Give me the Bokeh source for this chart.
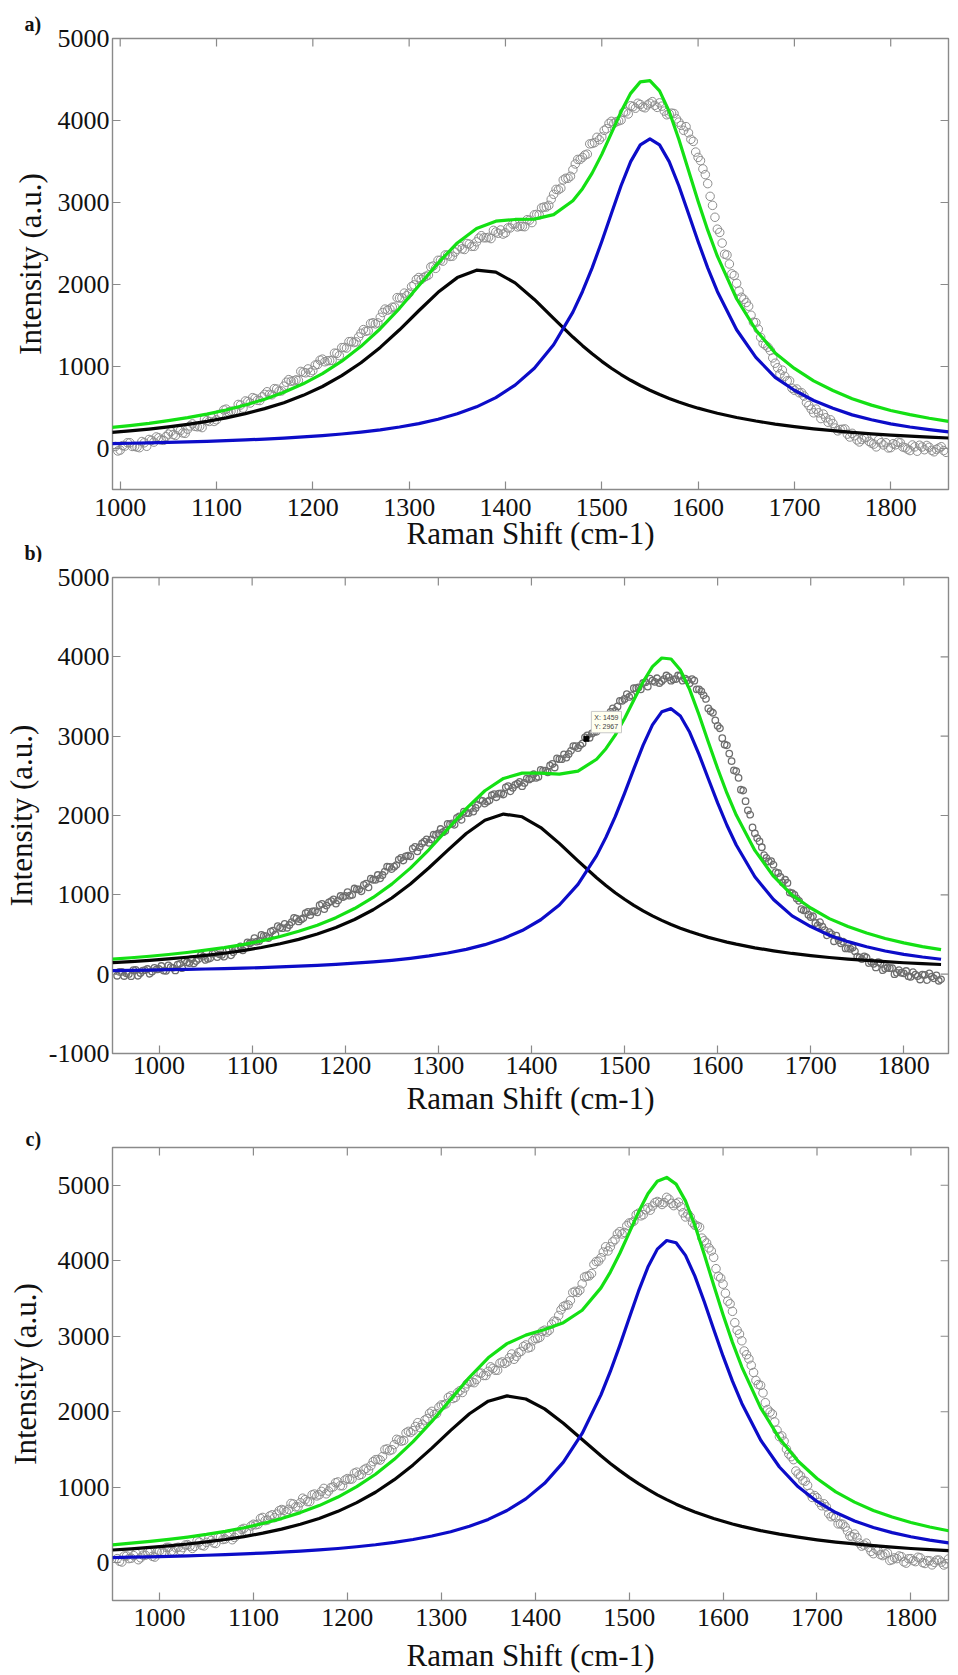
import numpy as np
from bokeh.plotting import figure
from bokeh.models import FixedTicker, Range1d, Title, Label
from bokeh.layouts import column
from bokeh.embed import file_html
from bokeh.resources import INLINE

# ---------------- data ----------------
# x grid of the fitted curves (cm-1)
FIT_X = [950, 970, 990, 1010, 1030, 1050, 1070, 1090, 1110, 1130,
         1150, 1170, 1190, 1210, 1230, 1250, 1270, 1290, 1310, 1330,
         1350, 1370, 1390, 1410, 1430, 1450, 1470,
         1480, 1490, 1500, 1510, 1520, 1530, 1540, 1550, 1560, 1570,
         1580, 1590, 1600, 1610, 1620,
         1640, 1660, 1680, 1700, 1720, 1740, 1760, 1780, 1800, 1820,
         1840, 1860]

# panel a) fitted curves
A_BLACK = [163, 178, 195, 215, 237, 264, 295, 331, 374, 425,
           486, 559, 648, 756, 888, 1046, 1233, 1448, 1680, 1905,
           2084, 2175, 2151, 2020, 1818, 1587, 1359,
           1254, 1155, 1063, 979, 902, 832, 768, 711, 658, 611,
           567, 528, 492, 460, 430,
           378, 335, 298, 267, 240, 217, 197, 179, 164, 151,
           139, 128]
A_BLUE = [52, 56, 60, 64, 69, 75, 81, 88, 96, 105,
          115, 127, 141, 158, 177, 200, 228, 262, 304, 356,
          423, 508, 621, 773, 979, 1265, 1663,
          1915, 2203, 2524, 2866, 3204, 3499, 3703, 3776, 3703, 3499,
          3204, 2866, 2524, 2203, 1915,
          1448, 1111, 868, 710, 585, 490, 410, 350, 300, 262,
          230, 203]
A_GREEN = [215, 234, 255, 279, 306, 339, 376, 419, 470, 530,
           601, 686, 789, 914, 1065, 1246, 1461, 1710, 1984, 2261,
           2507, 2683, 2772, 2793, 2797, 2852, 3022,
           3169, 3358, 3587, 3845, 4106, 4331, 4471, 4487, 4361, 4110,
           3771, 3394, 3016, 2663, 2345,
           1826, 1446, 1166, 977, 825, 707, 607, 529, 464, 413,
           369, 331]

# panel b) fitted curves
B_BLACK = [145, 159, 174, 192, 213, 237, 264, 297, 336, 383,
           439, 506, 589, 689, 812, 960, 1137, 1341, 1561, 1773,
           1940, 2018, 1984, 1848, 1649, 1428, 1215,
           1118, 1027, 944, 868, 798, 735, 678, 626, 580, 537,
           499, 464, 433, 404, 378,
           332, 294, 261, 234, 210, 190, 173, 157, 144, 132,
           122, 112]
B_BLUE = [45, 48, 52, 56, 60, 65, 70, 76, 83, 91,
          101, 111, 123, 138, 155, 175, 200, 230, 267, 313,
          372, 449, 550, 686, 872, 1132, 1494,
          1724, 1986, 2279, 2588, 2888, 3142, 3307, 3347, 3254, 3049,
          2771, 2463, 2159, 1877, 1628,
          1228, 941, 735, 600, 490, 410, 345, 292, 250, 216,
          188, 165]
B_GREEN = [190, 207, 226, 248, 273, 302, 334, 373, 419, 474,
           540, 617, 712, 827, 967, 1135, 1337, 1571, 1828, 2086,
           2312, 2467, 2534, 2534, 2521, 2560, 2709,
           2842, 3013, 3223, 3456, 3686, 3877, 3985, 3973, 3834, 3586,
           3270, 2927, 2592, 2281, 2006,
           1560, 1235, 996, 834, 700, 600, 518, 449, 394, 348,
           310, 277]

# panel c) fitted curves
C_BLACK = [169, 185, 203, 224, 248, 276, 308, 346, 392, 445,
           510, 587, 681, 796, 934, 1100, 1296, 1518, 1753, 1974,
           2140, 2210, 2169, 2038, 1848, 1632, 1417,
           1316, 1220, 1131, 1048, 971, 900, 836, 776, 722, 673,
           628, 586, 549, 514, 482,
           426, 379, 339, 304, 274, 249, 226, 207, 189, 174,
           161, 149]
C_BLUE = [69, 74, 79, 85, 92, 99, 108, 117, 128, 140,
          154, 170, 189, 212, 238, 270, 308, 354, 411, 483,
          574, 692, 846, 1052, 1332, 1712, 2224,
          2534, 2876, 3238, 3597, 3916, 4154, 4268, 4239, 4071, 3796,
          3456, 3092, 2736, 2405, 2110,
          1626, 1268, 1006, 812, 665, 554, 467, 399, 344, 299,
          263, 232]
C_GREEN = [238, 259, 282, 309, 340, 375, 416, 463, 520, 585,
           664, 757, 870, 1008, 1172, 1370, 1604, 1872, 2164, 2457,
           2714, 2902, 3015, 3090, 3180, 3344, 3641,
           3850, 4096, 4369, 4645, 4887, 5054, 5104, 5015, 4793, 4469,
           4084, 3678, 3285, 2919, 2592,
           2052, 1647, 1345, 1116, 939, 803, 693, 606, 533, 473,
           424, 381]

# measured spectra (open circles), two interleaved sample sets per panel
A_DATA_X = list(range(995, 1856, 5))
A_DATA_Y = [25, -20, 30, 70, 25, 10, 70, 110, 78, 130,
            100, 175, 170, 230, 190, 235, 300, 265, 255, 340,
            375, 350, 420, 480, 455, 455, 530, 580, 555, 610,
            585, 660, 660, 730, 700, 760, 840, 825, 830, 930,
            970, 950, 1025, 1090, 1070, 1075, 1160, 1230, 1225, 1305,
            1300, 1405, 1430, 1525, 1520, 1600, 1700, 1700, 1725, 1835,
            1895, 1895, 1995, 2085, 2085, 2115, 2225, 2295, 2285, 2360,
            2345, 2430, 2435, 2500, 2465, 2520, 2595, 2570, 2560, 2640,
            2665, 2630, 2690, 2740, 2710, 2705, 2785, 2850, 2850, 2945,
            2965, 3100, 3155, 3275, 3295, 3400, 3525, 3550, 3590, 3720,
            3795, 3800, 3900, 3990, 3985, 4005, 4105, 4180, 4150, 4195,
            4155, 4210, 4185, 4215, 4115, 4080, 4085, 3980, 3880, 3850,
            3745, 3550, 3410, 3230, 2965, 2675, 2505, 2360, 2130, 2015,
            1845, 1780, 1625, 1535, 1355, 1260, 1195, 1040, 910, 880,
            825, 710, 680, 640, 525, 435, 435, 420, 320, 305,
            215, 235, 175, 185, 105, 110, 135, 65, 20, 70,
            70, 10, 45, 70, 10, -25, 20, 40, -15, 15,
            -40, 5, -25]
A_DATA2_X = list(np.arange(997.5, 1858, 5))
A_DATA2_Y = [-30, 35, 70, 25, 18, 85, 27, 99, 141, 105,
             145, 205, 160, 220, 185, 275, 270, 270, 358, 330,
             330, 415, 470, 445, 455, 537, 493, 572, 620, 588,
             630, 692, 655, 725, 702, 808, 820, 837, 940, 923,
             927, 1018, 1077, 1058, 1072, 1163, 1133, 1232, 1303, 1292,
             1360, 1450, 1437, 1533, 1532, 1658, 1687, 1723, 1840, 1837,
             1863, 1975, 2060, 2062, 2100, 2215, 2197, 2295, 2360, 2342,
             2395, 2465, 2427, 2493, 2465, 2565, 2570, 2575, 2660, 2625,
             2615, 2690, 2735, 2702, 2708, 2790, 2755, 2855, 2935, 2945,
             3040, 3160, 3175, 3295, 3320, 3470, 3525, 3580, 3715, 3730,
             3765, 3880, 3965, 3965, 3995, 4100, 4080, 4170, 4210, 4165,
             4190, 4230, 4160, 4175, 4070, 4090, 4020, 3940, 3925, 3770,
             3615, 3510, 3340, 3075, 2820, 2635, 2370, 2250, 2110, 1920,
             1820, 1735, 1540, 1455, 1280, 1235, 1105, 985, 955, 825,
             735, 725, 680, 560, 480, 480, 365, 375, 350, 250,
             232, 238, 140, 155, 80, 130, 87, 53, 105, 43,
             7, 58, 77, 18, -8, 43, -33, 18, 37, -22,
             -10, 22, -47]

B_DATA_X = list(range(955, 1841, 5))
B_DATA_Y = [-20, 30, 10, -25, 55, 15, 50, 5, 80, 65,
            45, 110, 80, 120, 75, 150, 190, 165, 240, 180,
            200, 265, 250, 220, 310, 275, 325, 300, 400, 405,
            410, 495, 480, 535, 500, 585, 635, 620, 710, 665,
            705, 785, 790, 780, 885, 865, 920, 890, 985, 985,
            990, 1080, 1070, 1125, 1095, 1190, 1250, 1250, 1355, 1325,
            1375, 1465, 1485, 1485, 1605, 1600, 1670, 1655, 1760, 1775,
            1790, 1895, 1900, 1970, 1945, 2030, 2090, 2095, 2195, 2150,
            2190, 2270, 2275, 2265, 2370, 2350, 2400, 2370, 2465, 2470,
            2475, 2575, 2565, 2630, 2605, 2710, 2770, 2775, 2875, 2850,
            2910, 3010, 3035, 3055, 3190, 3210, 3305, 3320, 3445, 3470,
            3495, 3605, 3615, 3670, 3625, 3700, 3730, 3695, 3765, 3700,
            3720, 3760, 3725, 3665, 3700, 3590, 3515, 3350, 3295, 3130,
            2975, 2885, 2685, 2560, 2325, 2180, 2010, 1775, 1675, 1500,
            1420, 1380, 1275, 1155, 1150, 1020, 955, 820, 805, 720,
            645, 655, 555, 530, 415, 430, 410, 325, 335, 220,
            190, 210, 155, 85, 140, 70, 75, 0, 50, 10,
            -25, 25, -25, -5, -75, -30, -15, -65]
B_DATA2_X = list(np.arange(957.5, 1840, 5))
B_DATA2_Y = [30, -23, 3, 52, -20, 45, 65, 35, 60, 103,
             42, 90, 47, 130, 175, 140, 135, 193, 222, 195,
             258, 215, 245, 302, 238, 313, 350, 343, 390, 455,
             418, 482, 455, 550, 605, 580, 585, 655, 700, 690,
             770, 745, 795, 870, 820, 905, 943, 930, 972, 1035,
             1000, 1070, 1045, 1142, 1205, 1190, 1207, 1293, 1352, 1355,
             1445, 1433, 1495, 1582, 1548, 1647, 1700, 1700, 1755, 1830,
             1808, 1892, 1883, 1990, 2050, 2030, 2050, 2135, 2185, 2175,
             2255, 2230, 2280, 2355, 2305, 2387, 2423, 2410, 2455, 2520,
             2490, 2565, 2545, 2650, 2720, 2710, 2730, 2815, 2875, 2885,
             2985, 2980, 3055, 3160, 3145, 3270, 3350, 3375, 3445, 3530,
             3515, 3605, 3590, 3680, 3725, 3685, 3670, 3720, 3745, 3715,
             3765, 3700, 3705, 3720, 3590, 3565, 3470, 3315, 3200, 3100,
             2895, 2780, 2570, 2475, 2315, 2065, 1850, 1715, 1600, 1465,
             1425, 1285, 1225, 1190, 1030, 1000, 925, 805, 750, 730,
             615, 600, 490, 505, 485, 390, 325, 320, 290, 210,
             225, 140, 130, 150, 50, 85, 75, 17, 18, 40,
             -35, -5, -67, -8, 10, -52, -83]

C_DATA_X = list(range(955, 1841, 5))
C_DATA_Y = [55, 10, 90, 60, 125, 65, 100, 145, 75, 155,
            135, 205, 150, 205, 200, 240, 190, 290, 230, 270,
            295, 255, 340, 315, 385, 335, 385, 455, 410, 510,
            510, 600, 565, 635, 645, 705, 675, 785, 740, 795,
            835, 810, 910, 900, 985, 950, 1005, 1070, 1020, 1115,
            1110, 1200, 1170, 1250, 1285, 1365, 1360, 1500, 1485, 1565,
            1625, 1620, 1740, 1750, 1855, 1835, 1910, 2005, 1975, 2090,
            2105, 2210, 2190, 2280, 2315, 2395, 2385, 2515, 2480, 2535,
            2575, 2550, 2660, 2660, 2765, 2735, 2800, 2885, 2855, 2970,
            2985, 3080, 3080, 3200, 3275, 3395, 3415, 3580, 3580, 3695,
            3795, 3830, 3990, 4040, 4185, 4185, 4280, 4385, 4375, 4500,
            4525, 4630, 4610, 4700, 4725, 4785, 4745, 4840, 4760, 4755,
            4715, 4580, 4580, 4470, 4445, 4265, 4170, 4045, 3795, 3690,
            3465, 3330, 3080, 2940, 2755, 2615, 2415, 2350, 2120, 1995,
            1865, 1670, 1610, 1440, 1365, 1175, 1090, 1025, 865, 860,
            755, 740, 610, 600, 515, 475, 355, 380, 260, 235,
            205, 120, 160, 95, 130, 40, 55, 80, -5, 55,
            15, 65, -10, 25, 5, 35, -30, 50]
C_DATA2_X = list(np.arange(957.5, 1840, 5))
C_DATA2_Y = [20, 90, 55, 95, 40, 100, 145, 85, 143, 137,
             203, 152, 198, 160, 235, 220, 217, 275, 223, 322,
             263, 337, 308, 352, 305, 377, 442, 408, 487, 503,
             587, 558, 620, 598, 690, 695, 707, 778, 740, 855,
             810, 900, 885, 945, 913, 995, 1060, 1020, 1095, 1105,
             1187, 1160, 1230, 1225, 1340, 1368, 1407, 1508, 1497, 1635,
             1610, 1720, 1725, 1805, 1790, 1890, 1980, 1965, 2060, 2090,
             2190, 2175, 2255, 2255, 2370, 2395, 2427, 2512, 2480, 2595,
             2550, 2645, 2640, 2715, 2695, 2785, 2865, 2845, 2940, 2970,
             3065, 3055, 3160, 3195, 3350, 3410, 3475, 3595, 3610, 3785,
             3800, 3950, 3995, 4115, 4130, 4250, 4355, 4355, 4465, 4505,
             4610, 4595, 4675, 4670, 4770, 4770, 4770, 4815, 4730, 4775,
             4635, 4620, 4505, 4460, 4300, 4235, 4130, 3895, 3770, 3570,
             3430, 3180, 3030, 2805, 2700, 2520, 2360, 2250, 2030, 1970,
             1755, 1680, 1505, 1405, 1215, 1150, 1080, 920, 890, 800,
             780, 650, 625, 515, 510, 420, 345, 335, 220, 260,
             150, 180, 108, 115, 30, 65, 90, 12, 53, 27,
             73, 2, 28, -28, 35, 8, -13]

X_TICKS = [1000, 1100, 1200, 1300, 1400, 1500, 1600, 1700, 1800]
A_Y_TICKS = [0, 1000, 2000, 3000, 4000, 5000]
B_Y_TICKS = [-1000, 0, 1000, 2000, 3000, 4000, 5000]
C_Y_TICKS = [0, 1000, 2000, 3000, 4000, 5000]

DATATIP_X = 1459
DATATIP_Y = 2967

# ---------------- styling ----------------
FONT = "Liberation Serif"
GRAY = "#8a8a8a"
GREEN = "#14e014"
BLUE = "#0c0cc8"
BLACK = "#050505"
X_LABEL = "Raman Shift (cm-1)"
Y_LABEL = "Intensity (a.u.)"
TICK_LEN = 8


def style_axis(ax, ticks, standoff, label, label_standoff):
    ax.ticker = FixedTicker(ticks=ticks)
    ax.major_tick_in = TICK_LEN
    ax.major_tick_out = 0
    ax.minor_tick_line_color = None
    ax.major_tick_line_color = GRAY
    ax.major_tick_line_width = 1.2
    ax.axis_line_color = None
    ax.major_label_text_font = FONT
    ax.major_label_text_font_size = "26px"
    ax.major_label_text_color = "#111111"
    ax.major_label_standoff = standoff
    ax.major_label_overrides = {t: str(t) for t in ticks}
    ax.axis_label = label
    ax.axis_label_text_font = FONT
    ax.axis_label_text_font_size = "31px"
    ax.axis_label_text_font_style = "normal"
    ax.axis_label_text_color = "#111111"
    ax.axis_label_standoff = label_standoff


def make_panel(width, height, xr, yr, yticks, borders, xstand, xlab_stand,
               ystand, ylab_stand):
    left, right, top, bottom = borders
    p = figure(width=width, height=height,
               x_range=Range1d(*xr), y_range=Range1d(*yr),
               output_backend="svg", toolbar_location=None, tools="",
               min_border_left=left, min_border_right=right,
               min_border_top=top, min_border_bottom=bottom)
    p.xgrid.visible = False
    p.ygrid.visible = False
    p.background_fill_color = "white"
    p.border_fill_color = "white"
    p.outline_line_color = GRAY
    p.outline_line_width = 1.4
    style_axis(p.xaxis[0], X_TICKS, xstand, X_LABEL, xlab_stand)
    style_axis(p.yaxis[0], yticks, ystand, Y_LABEL, ylab_stand)
    # inward ticks on the top and right sides of the box
    fw = width - left - right
    fh = height - top - bottom
    lx = TICK_LEN * (xr[1] - xr[0]) / fw
    ly = TICK_LEN * (yr[1] - yr[0]) / fh
    p.segment(x0=X_TICKS, y0=[yr[1]] * len(X_TICKS), x1=X_TICKS,
              y1=[yr[1] - ly] * len(X_TICKS), line_color=GRAY, line_width=1.2)
    p.segment(x0=[xr[1]] * len(yticks), y0=yticks,
              x1=[xr[1] - lx] * len(yticks), y1=yticks,
              line_color=GRAY, line_width=1.2)
    return p


def panel_letter(title, text, offset, standoff, valign):
    title.text = text
    title.align = "left"
    title.offset = offset
    title.standoff = standoff
    title.vertical_align = valign
    title.text_font = FONT
    title.text_font_size = "20px"
    title.text_font_style = "bold"
    title.text_color = "#111111"


def draw(p, sets, fx, black, blue, green, size, mcolor, mwidth):
    for dx, dy in sets:
        p.scatter(dx, dy, marker="circle", size=size, fill_color=None,
                  line_color=mcolor, line_width=mwidth)
    p.line(fx, black, line_color=BLACK, line_width=3.2, line_join="round")
    p.line(fx, blue, line_color=BLUE, line_width=3.2, line_join="round")
    p.line(fx, green, line_color=GREEN, line_width=3.2, line_join="round")


# ---------------- panel a ----------------
pa = make_panel(958, 562, (992, 1860), (-500, 5000), A_Y_TICKS,
                (108, 10, 38, 73), 9, -3, 3, 7)
panel_letter(pa.title, "a)", -88, 8, "bottom")
tb = Title()
panel_letter(tb, "b)", -88, -24, "top")
pa.add_layout(tb, "below")
draw(pa, [(A_DATA_X, A_DATA_Y), (A_DATA2_X, A_DATA2_Y)], FIT_X,
     A_BLACK, A_BLUE, A_GREEN, 8.5, "#8e8e8e", 1.0)

# ---------------- panel b ----------------
pb = make_panel(958, 558, (950, 1848), (-1000, 5000), B_Y_TICKS,
                (109, 0, 15, 67), 3, 4, 3, 7)
pb.title.visible = False
draw(pb, [(B_DATA_X, B_DATA_Y), (B_DATA2_X, B_DATA2_Y)], FIT_X[:-1],
     B_BLACK[:-1], B_BLUE[:-1], B_GREEN[:-1], 6.5, "#6e6e6e", 1.3)
pb.scatter([DATATIP_X], [DATATIP_Y], marker="square", size=5,
           fill_color="black", line_color="black")
pb.add_layout(Label(x=DATATIP_X, y=DATATIP_Y, x_offset=5, y_offset=6,
                    text="X: %d\nY: %d" % (DATATIP_X, DATATIP_Y),
                    text_font="Liberation Sans", text_font_size="7px",
                    text_color="#444444", text_align="left",
                    text_baseline="bottom",
                    background_fill_color="#fffff0",
                    border_line_color="#c8c8c8", padding=3))

# ---------------- panel c ----------------
pc = make_panel(958, 555, (950, 1840), (-500, 5500), C_Y_TICKS,
                (107, 0, 27, 73), 8, 9, 3, 12)
panel_letter(pc.title, "c)", -87, -4, "bottom")
draw(pc, [(C_DATA_X, C_DATA_Y), (C_DATA2_X, C_DATA2_Y)], FIT_X,
     C_BLACK, C_BLUE, C_GREEN, 8.5, "#8e8e8e", 1.0)

layout = column(pa, pb, pc)
open("out.html", "w").write(file_html(layout, INLINE))
